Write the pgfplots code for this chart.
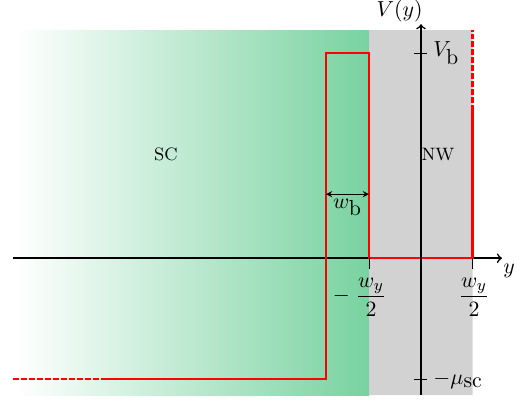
\documentclass[border=0pt]{standalone}
\usepackage{pgfplots}
\pgfplotsset{compat=1.18}
\usepackage{amsmath}
\definecolor{scgreen}{RGB}{120,210,160}
\definecolor{nwgray}{RGB}{210,210,210}
\begin{document}
\begin{tikzpicture}[every node/.style={font=\fontsize{10.95}{13}\selectfont}]
\begin{axis}[
  width=266bp, height=200.5bp, scale only axis,
  xmin=-421, xmax=111, ymin=-144, ymax=257,
  hide axis, clip=false,
]
% invisible frame for bounding box
\path (axis cs:-421,-144) rectangle (axis cs:111,257);
% superconductor region (gradient)
\addplot[draw=none, left color=white, right color=scgreen]
  coordinates {(-405,-137) (-405,228) (-52,228) (-52,-137) (-405,-137)};
% nanowire region
\addplot[draw=none, fill=nwgray]
  coordinates {(-52,-137) (-52,228) (51.5,228) (51.5,-137) (-52,-137)};
% x axis
\draw[line width=0.8pt, ->] (axis cs:-408,0) -- (axis cs:81,0);
% potential profile
\addplot[red, line width=1.1pt, dash pattern=on 3pt off 1pt]
  coordinates {(-408,-121) (-314,-121)};
\addplot[red, line width=1.1pt]
  coordinates {(-314,-121) (-95,-121) (-95,205) (-52,205) (-52,0) (51.5,0) (51.5,147)};
\addplot[red, line width=1.1pt, dash pattern=on 3pt off 1pt]
  coordinates {(51.5,147) (51.5,228)};
% y axis
\draw[line width=0.8pt, ->] (axis cs:0,-137) -- (axis cs:0,234);
% ticks
\draw[line width=0.5pt] (axis cs:-52,0) -- (axis cs:-52,-11);
\draw[line width=0.5pt] (axis cs:51.5,0) -- (axis cs:51.5,-11);
\draw[line width=0.5pt] (axis cs:-7,205) -- (axis cs:6,205);
\draw[line width=0.5pt] (axis cs:-7,-121) -- (axis cs:6,-121);
% labels
\node[anchor=south east, inner sep=0pt] at (axis cs:2,236) {$V(y)$};
\node[anchor=north west, inner sep=0pt] at (axis cs:82,-5) {$y$};
\node[anchor=west, inner sep=0pt] at (axis cs:12,205) {$V_{\mbox{b}}$};
\node[anchor=base west, inner sep=0pt] at (axis cs:12,-126) {$-\mu_{\mbox{sc}}$};
\node[anchor=north, inner sep=0pt] at (axis cs:-50,-19) {\llap{$-\;$}$\dfrac{w_y}{2}$};
\node[anchor=north, inner sep=0pt] at (axis cs:53,-19) {$\dfrac{w_y}{2}$};
\node[font=\small] at (axis cs:-255,104) {SC};
\node[font=\small] at (axis cs:17,104) {NW};
% barrier width
\draw[line width=0.4pt, <->, >=stealth] (axis cs:-95,64) -- (axis cs:-52,64);
\node[anchor=north, inner sep=0pt] at (axis cs:-73.5,60) {$w_{\mbox{b}}$};
\end{axis}
\end{tikzpicture}
\end{document}
